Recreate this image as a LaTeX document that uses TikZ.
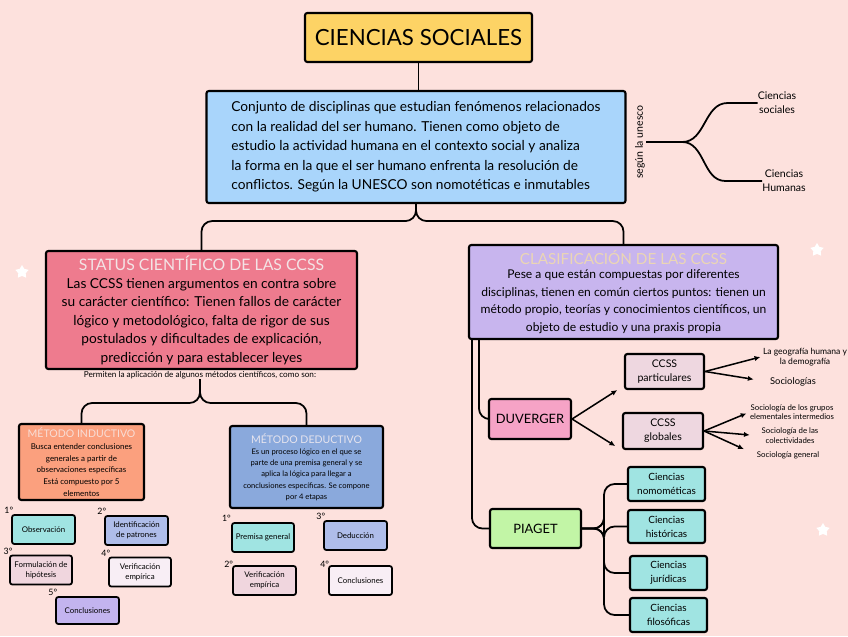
\documentclass[tikz,border=0pt]{standalone}
\usepackage{fontspec}
\setmainfont{Lato}
\usetikzlibrary{arrows.meta,positioning,shapes.geometric}

\definecolor{bgpink}{HTML}{FDE1DD}
\definecolor{yellowbox}{HTML}{FDD365}
\definecolor{bluebox}{HTML}{A9D5FB}
\definecolor{rosebox}{HTML}{EE7B8E}
\definecolor{lilacbox}{HTML}{C8B5EE}
\definecolor{orangebox}{HTML}{FBA07E}
\definecolor{steelbox}{HTML}{8AA9DC}
\definecolor{tealbox}{HTML}{A0E4E2}
\definecolor{periwinkle}{HTML}{AFBDEA}
\definecolor{palepink}{HTML}{F0D6DE}
\definecolor{paleviolet}{HTML}{F8EEF5}
\definecolor{lavender}{HTML}{C3B4EF}
\definecolor{pinkbox}{HTML}{F6A3C6}
\definecolor{mauvebox}{HTML}{EED7E0}
\definecolor{greenbox}{HTML}{C2F5A6}
\definecolor{titlewhite}{HTML}{F3E4E6}
\definecolor{titlebeige}{HTML}{EBD6B4}
\definecolor{titlesalmon}{HTML}{F8DDD6}
\definecolor{titlegrey}{HTML}{E6E4EE}

\begin{document}
\begin{tikzpicture}[
  x=0.03cm, y=-0.03cm,
  box/.style={draw, line width=1.8pt, rounded corners=2pt, align=center, inner sep=2pt},
  sbox/.style={box, line width=1.5pt, minimum width=1.89cm, minimum height=0.87cm, font=\fontsize{6.7}{8.5}\selectfont},
  cbox/.style={box, fill=tealbox, minimum width=2.31cm, minimum height=1.02cm, font=\fontsize{8.5}{12}\selectfont},
  conn/.style={line width=1.5pt, rounded corners=9pt},
  arr/.style={-{Latex[length=5pt,width=4.5pt]}, line width=1.3pt},
  num/.style={font=\fontsize{7.5}{8}\selectfont, inner sep=0pt},
  note/.style={align=center, inner sep=0pt, font=\fontsize{7}{8}\selectfont},
  star5/.style={star, star points=5, star point ratio=1.8, fill=white, inner sep=0pt, minimum size=0.42cm}
]

\fill[bgpink] (0,0) rectangle (848,636);
\useasboundingbox (0,0) rectangle (848,636);

% --- top ---
\node[box, fill=yellowbox, minimum width=6.81cm, minimum height=1.47cm, font=\fontsize{19}{22}\selectfont] (title) at (418.5,37.5) {CIENCIAS SOCIALES};
\node[box, fill=bluebox, minimum width=12.57cm, minimum height=3.36cm, align=left, font=\fontsize{11.7}{16.6}\selectfont] (def) at (416,147) {Conjunto de disciplinas que estudian fenómenos relacionados\\con la realidad del ser humano. Tienen como objeto de\\estudio la actividad humana en el contexto social y analiza\\la forma en la que el ser humano enfrenta la resolución de\\conflictos. Según la UNESCO son nomotéticas e inmutables};
\draw[conn] (title.south) -- (title.south |- def.north);

\node[rotate=90, font=\fontsize{9}{10}\selectfont, inner sep=1pt] (unesco) at (640,142) {según la unesco};
\node[note, font=\fontsize{9}{12}\selectfont] (cs) at (777,103) {Ciencias\\sociales};
\node[note, font=\fontsize{9}{12}\selectfont] (ch) at (784,181) {Ciencias\\Humanas};
\draw[conn] (unesco.south) -- ++(36,0) coordinate (fork);
\draw[line width=1.5pt] (fork) to[out=0,in=180] ([xshift=-0.9cm]cs.west) -- (cs.west);
\draw[line width=1.5pt] (fork) to[out=0,in=180] ([xshift=-1.1cm]ch.west) -- (ch.west);

% --- status ---
\node[box, fill=rosebox, minimum width=9.33cm, minimum height=3.54cm, font=\fontsize{11.7}{15.7}\selectfont] (status) at (201.5,310) {{\color{titlewhite}\fontsize{13.5}{15}\selectfont STATUS CIENTÍFICO DE LAS CCSS}\\Las CCSS tienen argumentos en contra sobre\\su carácter científico: Tienen fallos de carácter\\lógico y metodológico, falta de rigor de sus\\postulados y dificultades de explicación,\\predicción y para establecer leyes};
\node[note] (perm) at (200,375) {Permiten la aplicación de algunos métodos científicos, como son:};

% --- clasificacion ---
\node[box, fill=lilacbox, minimum width=9.27cm, minimum height=2.82cm, font=\fontsize{10.3}{15}\selectfont] (clasif) at (623.5,292) {{\color{titlebeige}\fontsize{13}{14}\selectfont CLASIFICACIÓN DE LAS CCSS}\\[-3pt]Pese a que están compuestas por diferentes\\disciplinas, tienen en común ciertos puntos: tienen un\\método propio, teorías y conocimientos científicos, un\\objeto de estudio y una praxis propia};

\draw[conn] (def.south) -- ++(0,17) -| (status.north);
\draw[conn] (def.south) -- ++(0,17) -| (clasif.north);

% --- metodos ---
\node[box, fill=orangebox, minimum width=3.75cm, minimum height=2.28cm, font=\fontsize{6.8}{10}\selectfont] (induct) at (81.5,462) {{\color{titlesalmon}\fontsize{9}{10}\selectfont MÉTODO INDUCTIVO}\\Busca entender conclusiones\\generales a partir de\\observaciones específicas\\Está compuesto por 5\\elementos};
\node[box, fill=steelbox, minimum width=4.59cm, minimum height=2.46cm, font=\fontsize{6.5}{9.6}\selectfont] (deduct) at (306.5,467) {{\color{titlegrey}\fontsize{9}{10}\selectfont MÉTODO DEDUCTIVO}\\Es un proceso lógico en el que se\\parte de una premisa general y se\\aplica la lógica para llegar a\\conclusiones específicas. Se compone\\por 4 etapas};
\draw[conn] (perm.south) -- ++(0,24) -| (induct.north);
\draw[conn] (perm.south) -- ++(0,24) -| (deduct.north);

% inductive steps
\node[sbox, fill=tealbox] (obs) at (43.5,529.5) {Observación};
\node[sbox, fill=periwinkle] (ident) at (136.5,530.5) {Identificación\\de patrones};
\node[sbox, fill=palepink, minimum width=1.86cm] (formul) at (41,570) {Formulación de\\hipótesis};
\node[sbox, fill=paleviolet, minimum width=1.86cm] (verifa) at (140,572) {Verificación\\empírica};
\node[sbox, fill=lavender, minimum height=0.81cm] (conca) at (87.5,610.5) {Conclusiones};
\node[num, above left=0pt and -2pt of obs.north west] (na1) {1°};
\node[num, above left=0pt and -2pt of ident.north west] (na2) {2°};
\node[num, above left=0pt and -3pt of formul.north west] (na3) {3°};
\node[num, above left=0pt and -2pt of verifa.north west] (na4) {4°};
\node[num, above left=0pt and -2pt of conca.north west] (na5) {5°};

% deductive steps
\node[sbox, fill=tealbox, minimum width=1.86cm] (premisa) at (263,537.5) {Premisa general};
\node[sbox, fill=periwinkle] (deducc) at (355.5,535.5) {Deducción};
\node[sbox, fill=palepink] (verifb) at (264.5,580.5) {Verificación\\empírica};
\node[sbox, fill=paleviolet] (concb) at (360.5,580.5) {Conclusiones};
\node[num, above left=0pt and 0pt of premisa.north west] (nb1) {1°};
\node[num, above left=0pt and -2pt of deducc.north west] (nb3) {3°};
\node[num, above left=-2pt and -1pt of verifb.north west] (nb2) {2°};
\node[num, above left=-2pt and -1pt of concb.north west] (nb4) {4°};

% --- Duverger ---
\node[box, fill=pinkbox, minimum width=2.46cm, minimum height=1.2cm, font=\fontsize{11}{13}\selectfont] (duv) at (530,419) {DUVERGER};
\node[box, fill=mauvebox, minimum width=2.37cm, minimum height=1.05cm, font=\fontsize{9}{12}\selectfont] (partic) at (664.5,371.5) {CCSS\\particulares};
\node[box, fill=mauvebox, minimum width=2.4cm, minimum height=1.08cm, font=\fontsize{9}{12}\selectfont] (glob) at (663,431) {CCSS\\globales};
\draw[conn] ([xshift=0.33cm]clasif.south west) |- (duv.west);
\draw[arr] (duv.east) -- ([xshift=-0.2cm]partic.south west);
\draw[arr] (duv.east) -- ([xshift=-0.2cm,yshift=0.12cm]glob.south west);

\node[note, font=\fontsize{7.3}{9}\selectfont] (geo) at (805,357) {La geografía humana y\\la demografía};
\node[note, font=\fontsize{8}{9}\selectfont] (socs) at (793,382) {Sociologías};
\node[note, font=\fontsize{6.7}{7.6}\selectfont] (sga) at (792,412) {Sociología de los grupos\\elementales intermedios};
\node[note, font=\fontsize{6.7}{8.5}\selectfont] (sgb) at (790,436) {Sociología de las\\colectividades};
\node[note, font=\fontsize{6.7}{8}\selectfont] (sgc) at (788,455) {Sociología general};
\draw[arr] (partic.east) -- ([xshift=-2pt]geo.west);
\draw[arr, shorten >=14pt] (partic.east) -- (socs.west);
\draw[arr, shorten >=3pt] (glob.east) -- (sga.west);
\draw[arr, shorten >=10pt] (glob.east) -- (sgb.west);
\draw[arr, shorten >=12pt] (glob.east) -- (sgc.west);

% --- Piaget ---
\node[box, fill=greenbox, minimum width=2.73cm, minimum height=1.17cm, font=\fontsize{11}{13}\selectfont] (piaget) at (535.5,528.5) {PIAGET};
\node[cbox] (nomo) at (666.5,484) {Ciencias\\nomométicas};
\node[cbox, minimum height=0.99cm] (hist) at (666.5,526.5) {Ciencias\\históricas};
\node[cbox] (jur) at (668.5,573) {Ciencias\\jurídicas};
\node[cbox] (filo) at (668.5,615) {Ciencias\\filosóficas};
\draw[conn] ([xshift=0.12cm]clasif.south west) |- (piaget.west);
\foreach \b in {nomo,hist,jur,filo}
  \draw[conn] (piaget.east) -- ++(22,0) |- (\b.west);

% stars
\node[star5] (stara) at (22,272) {};
\node[star5] (starb) at (817,250) {};
\node[star5] (starc) at (823,530) {};

\end{tikzpicture}
\end{document}
